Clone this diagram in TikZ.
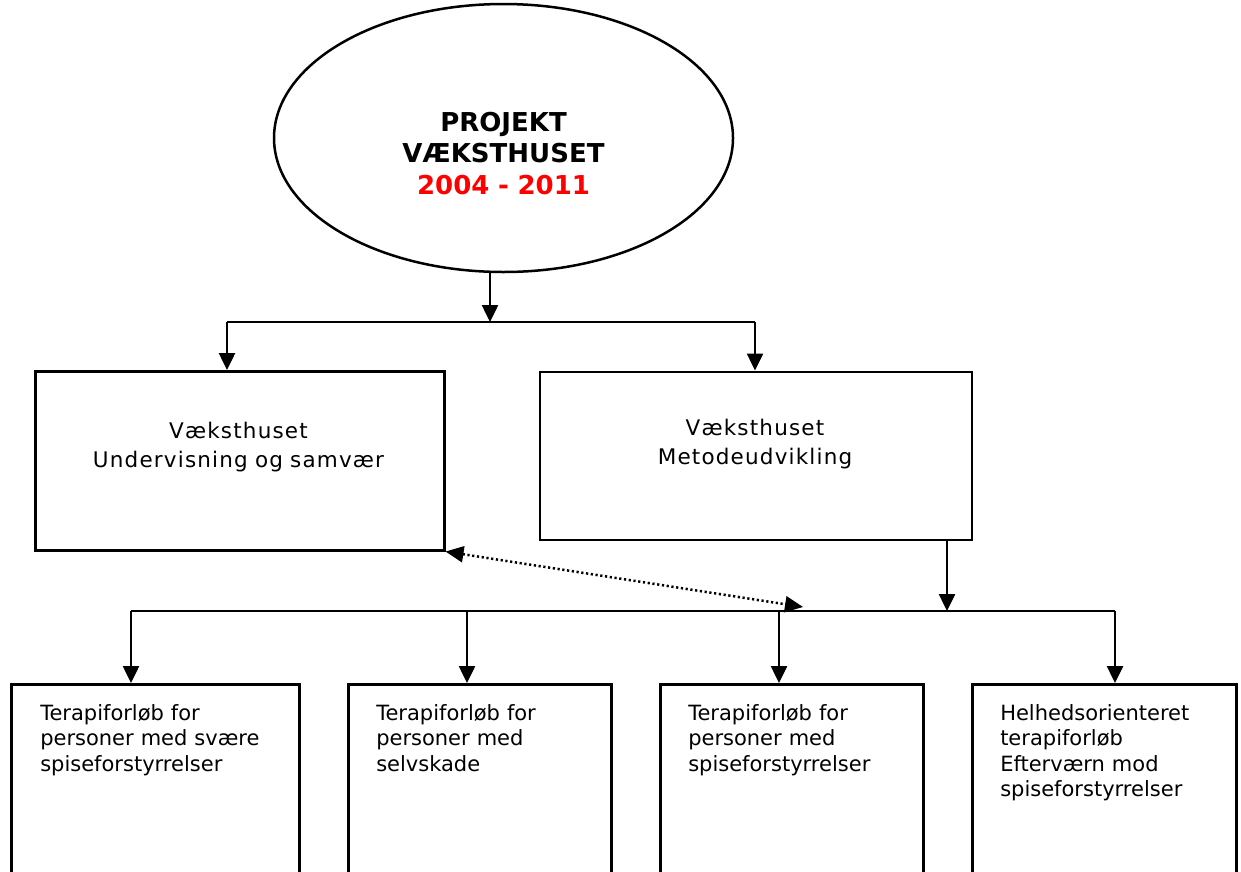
\documentclass[tikz,border=0pt]{standalone}
\usepackage{fontspec}
\setmainfont{DejaVu Sans}
\newfontfamily\spacedfont[LetterSpace=5.5]{DejaVu Sans}
\usetikzlibrary{arrows.meta,shapes.geometric}
\definecolor{projred}{RGB}{255,0,0}
\begin{document}
\begin{tikzpicture}[x=1pt,y=-1pt,line width=2.5pt,
  arr/.style={-{Triangle[length=17pt,width=16pt]}},
  dotarr/.style={{Triangle[length=18pt,width=16pt]}-{Triangle[length=18pt,width=16pt]},dash pattern=on 2.2pt off 2.6pt},
  box/.style={draw,rectangle,inner sep=0pt,anchor=north west},
  titletext/.style={font=\bfseries\fontsize{26}{31.5}\selectfont,text width=300pt,align=center,inner sep=0pt,anchor=base},
  midtext/.style={font=\spacedfont\fontsize{21.5}{29}\selectfont,text width=400pt,align=center,inner sep=0pt,anchor=base},
  lowtext/.style={font=\fontsize{21}{25.6}\selectfont,text width=240pt,align=left,inner sep=0pt,anchor=base west}]
\useasboundingbox (0,0) rectangle (1241,871);
% top ellipse
\node[draw,ellipse,minimum width=459pt,minimum height=268pt,inner sep=0pt] (proj) at (503.5,138) {};
\node[titletext] (projtxt) at (503.5,131) {PROJEKT\\VÆKSTHUSET\\\textcolor{projred}{2004 - 2011}};
% middle boxes
\node[box,minimum width=409pt,minimum height=179pt] (under) at (34,370) {};
\node[midtext] (undertxt) at (238.5,438) {Væksthuset\\Undervisning og samvær};
\node[box,minimum width=432pt,minimum height=168pt] (metode) at (538.5,370.5) {};
\node[midtext] (metodetxt) at (755,435) {Væksthuset\\Metodeudvikling};
% bottom boxes
\node[box,minimum width=288pt,minimum height=260pt] (t1) at (10,683) {};
\node[lowtext] (t1txt) at (39,720) {Terapiforløb for\\personer med svære\\spiseforstyrrelser};
\node[box,minimum width=263pt,minimum height=260pt] (t2) at (347,683) {};
\node[lowtext] (t2txt) at (375,720) {Terapiforløb for\\personer med\\selvskade};
\node[box,minimum width=263pt,minimum height=260pt] (t3) at (659,683) {};
\node[lowtext] (t3txt) at (687,720) {Terapiforløb for\\personer med\\spiseforstyrrelser};
\node[box,minimum width=264pt,minimum height=260pt] (t4) at (971,683) {};
\node[lowtext] (t4txt) at (999,720) {Helhedsorienteret\\terapiforløb\\Efterværn mod\\spiseforstyrrelser};
% upper connectors
\coordinate (j1) at (490,322);
\coordinate (jl) at (227,322);
\coordinate (jr) at (755,322);
\draw[arr] (j1 |- proj.south) -- (j1);
\draw (jl) -- (jr);
\draw[arr] (jl) -- (jl |- under.north);
\draw[arr] (jr) -- (jr |- metode.north);
% lower connectors
\coordinate (kin) at (947,611);
\coordinate (k1) at (131,611);
\coordinate (k2) at (467,611);
\coordinate (k3) at (779,611);
\coordinate (k4) at (1115,611);
\coordinate (kd) at (803,607);
\draw[arr] (kin |- metode.south) -- (kin);
\draw (k1) -- (k4);
\draw[arr] (k1) -- (k1 |- t1.north);
\draw[arr] (k2) -- (k2 |- t2.north);
\draw[arr] (k3) -- (k3 |- t3.north);
\draw[arr] (k4) -- (k4 |- t4.north);
% dotted double arrow
\draw[dotarr] (under.south east) -- (kd);
\end{tikzpicture}
\end{document}
